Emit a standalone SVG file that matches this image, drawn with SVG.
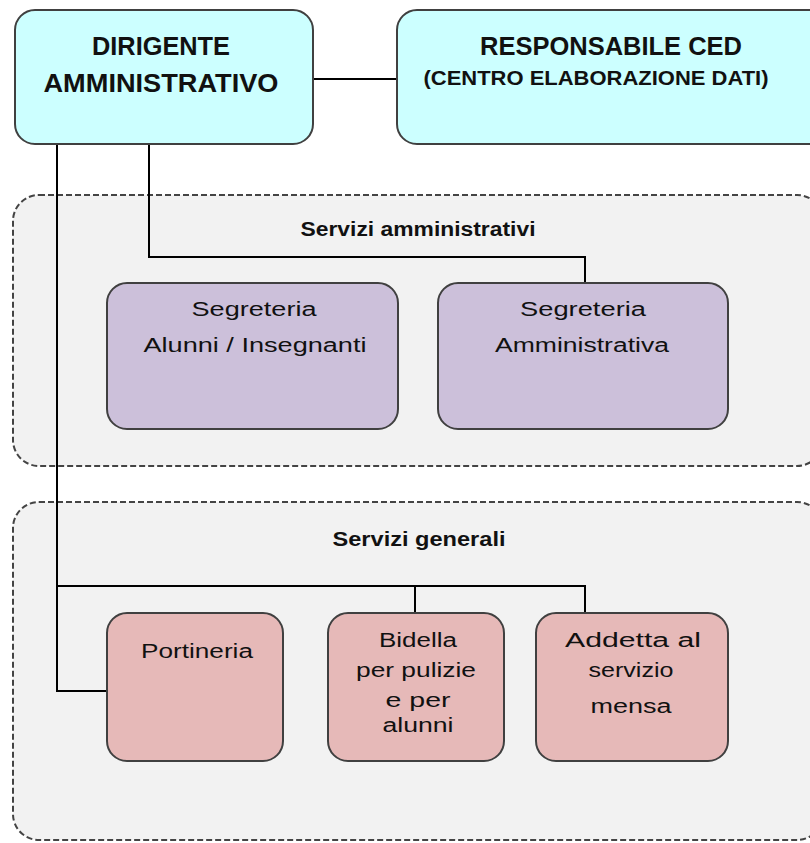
<svg xmlns="http://www.w3.org/2000/svg" width="810" height="843" viewBox="0 0 810 843">
<style>
.grp{fill:#f2f2f2;stroke:#444;stroke-width:2;stroke-dasharray:6 3}
.top{fill:#ccffff;stroke:#404040;stroke-width:2}
.adm{fill:#ccc0da;stroke:#404040;stroke-width:2}
.gen{fill:#e6b9b8;stroke:#404040;stroke-width:2}
.con{fill:none;stroke:#000;stroke-width:2}
text{font-family:"Liberation Sans",Arial,sans-serif;fill:#111;text-anchor:middle}
.b{font-weight:bold}
.h{font-size:26px;font-weight:bold}
.s{font-size:20px;font-weight:bold}
.n{font-size:20px}
</style>
<rect width="810" height="843" fill="#fff"/>
<g id="grp-amm"><rect class="grp" x="13" y="195" width="810" height="271" rx="26"/><text class="s" x="418" y="236" textLength="235" lengthAdjust="spacingAndGlyphs">Servizi amministrativi</text></g>
<g id="grp-gen"><rect class="grp" x="13" y="502" width="810" height="338" rx="26"/><text class="s" x="419" y="546" textLength="173" lengthAdjust="spacingAndGlyphs">Servizi generali</text></g>
<g id="connectors">
<line class="con" x1="313" y1="79" x2="397" y2="79"/>
<polyline class="con" points="57,144 57,691 108,691"/>
<polyline class="con" points="149,144 149,257 585,257 585,283"/>
<polyline class="con" points="57,586 585,586 585,613"/>
<line class="con" x1="415" y1="586" x2="415" y2="613"/>
</g>
<g id="dirigente"><rect class="top" x="15" y="10" width="298" height="134" rx="20"/>
<text class="h" x="161" y="55" textLength="138" lengthAdjust="spacingAndGlyphs">DIRIGENTE</text>
<text class="h" x="161" y="92" textLength="235" lengthAdjust="spacingAndGlyphs">AMMINISTRATIVO</text></g>
<g id="ced"><rect class="top" x="397" y="10" width="440" height="134" rx="20"/>
<text class="h" x="611" y="55" textLength="262" lengthAdjust="spacingAndGlyphs">RESPONSABILE CED</text>
<text class="b" style="font-size:21px" x="596" y="85" textLength="345" lengthAdjust="spacingAndGlyphs">(CENTRO ELABORAZIONE DATI)</text></g>
<g id="segr-alunni"><rect class="adm" x="107" y="283" width="291" height="146" rx="20"/>
<text class="n" x="254" y="316" textLength="125" lengthAdjust="spacingAndGlyphs">Segreteria</text>
<text class="n" x="255" y="352" textLength="223" lengthAdjust="spacingAndGlyphs">Alunni / Insegnanti</text></g>
<g id="segr-amm"><rect class="adm" x="438" y="283" width="290" height="146" rx="20"/>
<text class="n" x="583" y="316" textLength="126" lengthAdjust="spacingAndGlyphs">Segreteria</text>
<text class="n" x="582" y="352" textLength="174" lengthAdjust="spacingAndGlyphs">Amministrativa</text></g>
<g id="portineria"><rect class="gen" x="107" y="613" width="176" height="148" rx="20"/>
<text class="n" x="197" y="658" textLength="112" lengthAdjust="spacingAndGlyphs">Portineria</text></g>
<g id="bidella"><rect class="gen" x="328" y="613" width="176" height="148" rx="20"/>
<text class="n" x="418" y="647" textLength="78" lengthAdjust="spacingAndGlyphs">Bidella</text>
<text class="n" x="416" y="677" textLength="120" lengthAdjust="spacingAndGlyphs">per pulizie</text>
<text class="n" x="418" y="707" textLength="65" lengthAdjust="spacingAndGlyphs">e per</text>
<text class="n" x="418" y="732" textLength="71" lengthAdjust="spacingAndGlyphs">alunni</text></g>
<g id="addetta"><rect class="gen" x="536" y="613" width="192" height="148" rx="20"/>
<text class="n" x="633" y="647" textLength="136" lengthAdjust="spacingAndGlyphs">Addetta al</text>
<text class="n" x="631" y="677" textLength="85" lengthAdjust="spacingAndGlyphs">servizio</text>
<text class="n" x="631" y="713" textLength="81" lengthAdjust="spacingAndGlyphs">mensa</text></g>
</svg>
